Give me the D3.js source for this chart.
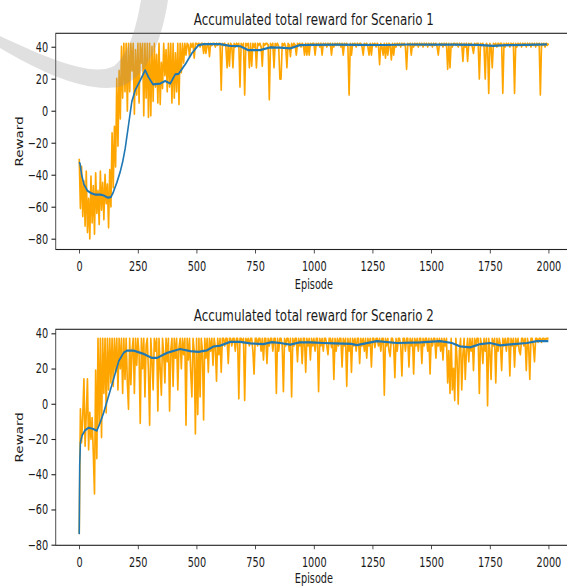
<!DOCTYPE html>
<html>
<head>
<meta charset="utf-8">
<script src="https://cdn.jsdelivr.net/npm/d3@7"></script>
<style>
    html, body { margin: 0; padding: 0; background: #fff; }
    svg { display: block; }
    text { font-family: "DejaVu Sans", sans-serif; fill: #1a1a1a; }
</style>
</head>
<body>
<div id="grafico"></div>
<script>
// Datos: recompensa cada 5 episodios (0..2000)
const EPISODE_STEP = 5;

const xTicks = [0, 250, 500, 750, 1000, 1250, 1500, 1750, 2000];
const yTicks = [-80, -60, -40, -20, 0, 20, 40];

const titulo1 = "Accumulated total reward for Scenario 1";
const titulo2 = "Accumulated total reward for Scenario 2";
const etiquetaX = "Episode";
const etiquetaY = "Reward";

const recompensa1 = [
    -30,-61,-35,-66,-44,-72,-38,-76,-55,-80,-41,-70,-47,-77,-39,-64,-50,-71,-38,-62,
    -45,-68,-40,-58,-46,-73,-37,-60,-14,-48,-10,-35,20,-22,25,-5,40,8,42,12,
    42,0,42,12,42,25,42,-2,38,10,42,5,42,30,42,-3,42,8,42,-4,
    42,-3,40,6,42,15,35,5,42,4,30,14,42,22,38,12,42,15,42,5,
    42,8,36,12,42,4,42,24,42,30,42,35,42,41,34,42,40,42,33,42,
    42,41,42,40,42,42,36,42,36,41,42,34,42,41,42,42,40,42,41,42,
    42,13,42,41,42,40,27,42,28,42,41,27,42,40,42,41,42,15,42,40,
    42,10,42,41,42,27,42,28,42,40,42,27,42,41,42,40,28,42,41,42,
    42,41,7,42,40,42,27,42,41,42,40,20,20,42,41,42,40,27,42,41,
    34,42,40,42,41,35,42,41,42,40,42,41,35,42,35,42,35,42,41,42,
    42,35,42,41,42,40,42,35,42,41,42,40,42,41,42,35,42,40,42,41,
    42,41,42,40,42,35,42,41,42,40,10,42,35,42,41,42,40,42,41,42,
    42,40,35,42,41,42,40,35,42,35,42,41,42,40,42,41,29,42,40,35,
    42,33,42,35,42,41,32,42,35,42,40,42,41,42,40,42,41,42,40,26,
    42,41,42,35,42,40,42,41,42,40,42,41,42,40,42,41,42,40,42,41,
    42,40,42,41,42,40,35,42,41,42,40,42,41,42,26,42,27,42,40,42,
    42,41,42,40,42,41,42,31,42,40,42,31,42,41,42,40,36,42,41,42,
    42,20,42,41,42,40,20,42,41,11,42,40,27,42,41,42,40,42,41,42,
    42,11,42,40,42,41,42,40,42,41,42,11,42,40,42,41,42,40,42,41,
    42,40,42,41,42,40,42,41,42,40,42,41,42,10,42,41,42,40,42,41,
    42
];

const media1 = [
    [0,-32],[4,-33.5],[10,-40],[20,-46],[35,-50],[50,-51.5],[70,-52.5],[90,-52.5],
    [105,-53],[120,-54.3],[135,-54],[145,-51],[160,-45],[175,-38],[185,-32],[196,-23.5],
    [210,-9],[224,5.6],[239,13],[260,19],[281,25.4],[295,21],[314,16.5],[345,17],
    [366,18.6],[388,17],[409,22.7],[423,23],[452,29],[480,35.9],[508,41],[530,41.6],
    [600,41.6],[643,40.5],[686,40.3],[720,37.9],[771,37.9],[814,39.6],[856,39.4],[899,39],
    [940,41],[985,41.2],[1100,41.3],[1200,41.2],[1300,41.1],[1400,41.4],[1500,41.3],
    [1600,41.3],[1700,41.2],[1764,40.5],[1820,41],[1900,41.2],[1993,41.5]
];

const recompensa2 = [
    -74,-3,-22,-7,14,-24,-6,14,-26,-5,-20,-8,-28,-51,19,-31,37,-12,37,-19,
    37,6,37,-5,37,8,37,12,37,10,37,18,37,8,37,20,37,6,37,14,
    37,12,-3,37,11,30,37,6,37,22,37,28,-11,37,20,37,4,33,37,18,
    -12,37,25,8,37,30,37,-4,37,20,5,37,28,12,37,24,37,-4,30,37,
    10,37,26,37,8,32,37,20,37,28,37,-12,37,25,37,18,4,37,30,-17,
    37,-6,37,4,37,30,-9,37,26,37,18,37,30,37,22,37,32,13,37,28,
    37,18,37,37,33,37,37,23,37,37,33,37,37,30,37,37,3,37,37,35,
    37,2,37,35,37,33,37,37,30,17,37,37,33,37,37,30,37,25,37,37,
    23,37,33,37,37,30,37,37,6,37,30,37,37,33,7,37,33,37,37,30,
    37,4,37,33,37,37,24,37,33,37,23,37,37,18,37,33,37,25,37,33,
    37,30,37,37,7,37,33,37,30,37,37,33,28,37,37,32,37,14,37,30,
    37,33,37,37,21,37,33,37,10,37,30,37,18,37,33,37,30,37,37,23,
    37,33,37,30,37,26,37,33,37,21,37,37,32,37,37,33,37,30,37,37,
    5,37,33,37,30,27,37,37,33,15,37,30,37,37,33,16,37,37,30,37,
    37,21,37,33,37,17,37,33,37,30,37,37,23,37,33,37,37,30,37,17,
    37,33,37,37,26,37,33,37,30,37,25,37,33,37,12,30,6,37,8,20,
    2,37,25,0,30,37,8,28,37,14,30,37,24,37,30,37,19,37,33,37,
    37,6,37,33,23,37,30,37,-1,37,30,14,37,33,37,12,37,30,37,33,
    19,37,33,37,30,37,37,16,37,33,37,21,37,33,37,30,28,37,37,33,
    37,19,37,33,14,37,37,33,24,37,37,35,37,37,35,37,37,36,37,37,
    37
];

const media2 = [
    [0,-74],[2,-35],[5,-22],[12,-18],[25,-15],[40,-13.6],[60,-14.3],[75,-15.3],
    [89,-10.8],[104,-5.1],[125,4.3],[146,13.8],[168,24.1],[189,28.9],[204,30.2],[232,30.2],
    [274,28.3],[310,26],[331,26],[374,28.9],[430,31.1],[473,29.9],[508,29.5],[544,30.3],
    [572,32.5],[601,33],[643,35.1],[686,35.1],[729,34.3],[784,33.9],[821,35],[856,34.5],
    [899,33.6],[940,34.8],[985,34.8],[1041,34.5],[1090,34.3],[1160,34],[1183,33.3],
    [1268,35.6],[1354,34.5],[1453,34.8],[1538,35.6],[1588,34.5],[1623,32.6],[1666,32],
    [1709,33.9],[1751,34.5],[1794,33.1],[1851,33.9],[1908,34.5],[1950,35.6],[1999,35.6]
];

// La figura original esta comprimida horizontalmente: se dibuja en un
// lienzo mas ancho y se encoge al tamaño de la ventana
const W = 788, H = 586;
const izquierda = 77.5, derecha = 795;

let svg = d3.select("#grafico")
    .append("svg")
    .attr("width", 567)
    .attr("height", 586)
    .attr("viewBox", "0 0 " + W + " " + H)
    .attr("preserveAspectRatio", "none");

function dibujarpanel(recompensa, media, titulo, arriba, abajo, dominioY, baseTitulo, baseEtiqueta) {
    let x = d3.scaleLinear()
        .domain([-100, 2100])
        .range([izquierda, derecha]);

    let y = d3.scaleLinear()
        .domain(dominioY)
        .range([abajo, arriba]);

    let linea = d3.line()
        .x(function (d) { return x(d[0]); })
        .y(function (d) { return y(d[1]); });

    let puntos = recompensa.map(function (v, i) { return [i * EPISODE_STEP, v]; });

    svg.append("path")
        .datum(puntos)
        .attr("d", linea)
        .attr("fill", "none")
        .attr("stroke", "#ffa500")
        .attr("stroke-width", 2.3)
        .attr("stroke-linejoin", "round");

    svg.append("path")
        .datum(media)
        .attr("d", linea)
        .attr("fill", "none")
        .attr("stroke", "#1f77b4")
        .attr("stroke-width", 2.2)
        .attr("stroke-linejoin", "round");

    // Marco de los ejes
    svg.append("rect")
        .attr("x", izquierda)
        .attr("y", arriba)
        .attr("width", derecha - izquierda)
        .attr("height", abajo - arriba)
        .attr("fill", "none")
        .attr("stroke", "#222")
        .attr("stroke-width", 1.1);

    let ejeX = svg.append("g")
        .attr("transform", "translate(0," + abajo + ")")
        .call(d3.axisBottom(x).tickValues(xTicks).tickFormat(d3.format("d"))
            .tickSizeInner(4).tickSizeOuter(0).tickPadding(8));

    let ejeY = svg.append("g")
        .attr("transform", "translate(" + izquierda + ",0)")
        .call(d3.axisLeft(y).tickValues(yTicks).tickSizeInner(6).tickSizeOuter(0).tickPadding(4.5));

    [ejeX, ejeY].forEach(function (eje) {
        eje.select(".domain").remove();
        eje.attr("font-size", 13.5).attr("font-family", null);
        eje.selectAll("line").attr("stroke", "#222").attr("stroke-width", 1.1);
    });

    //Titulo
    svg.append("text")
        .attr("text-anchor", "middle")
        .attr("x", (izquierda + derecha) / 2)
        .attr("y", baseTitulo)
        .attr("font-size", 16.5)
        .text(titulo);

    //Etiqueta eje X
    svg.append("text")
        .attr("text-anchor", "middle")
        .attr("x", (izquierda + derecha) / 2)
        .attr("y", baseEtiqueta)
        .attr("font-size", 13.5)
        .text(etiquetaX);

    //Etiqueta eje Y
    svg.append("text")
        .attr("text-anchor", "middle")
        .attr("transform", "translate(32," + (arriba + abajo) / 2 + ") rotate(-90)")
        .attr("font-size", 13.5)
        .text(etiquetaY);
}

dibujarpanel(recompensa1, media1, titulo1, 33.3, 249.5, [-86.75, 48.4], 25.3, 289);
dibujarpanel(recompensa2, media2, titulo2, 329.3, 545.3, [-80.34, 42.27], 321.3, 583.5);

// Marca de agua gris de la esquina superior izquierda
svg.append("g")
    .attr("transform", "scale(" + (W / 567) + ",1)")
    .append("path")
    .attr("d", "M0,36 C45,57 92,78 114,66 C128,55 136,30 141,0 L168,0 C162,40 148,76 122,86 C90,95 40,72 0,48 Z")
    .attr("fill", "#8c8c8c")
    .attr("fill-opacity", 0.27);
</script>
</body>
</html>
